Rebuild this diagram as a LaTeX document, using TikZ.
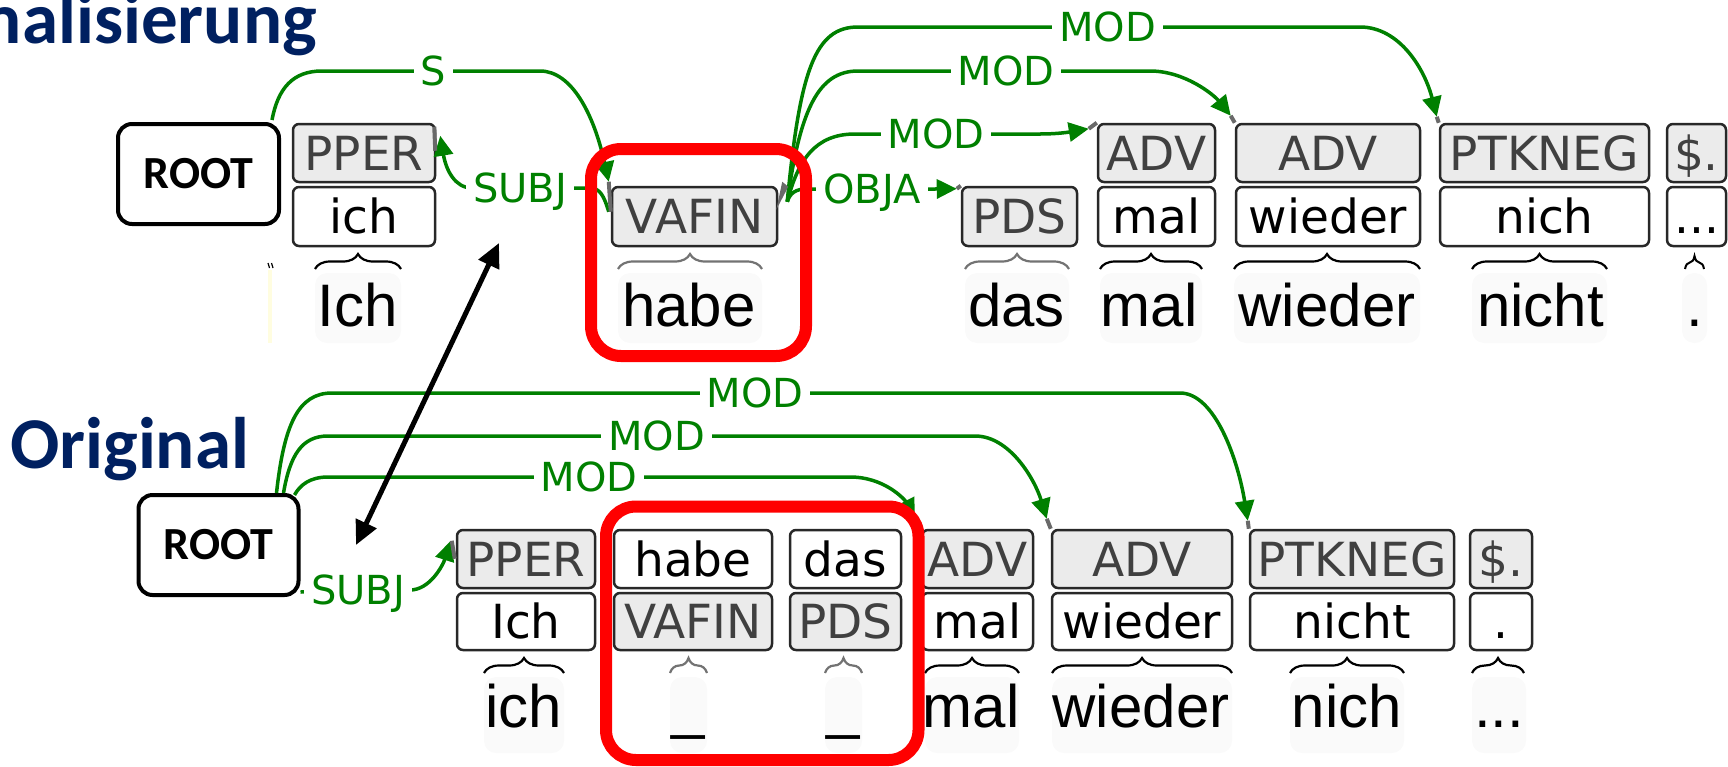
\documentclass[tikz,border=0pt]{standalone}
\usepackage{fontspec}
\setmainfont{Liberation Sans}
\newfontfamily\boxfont{DejaVu Sans}
\newfontfamily\carlito{Carlito}
\usetikzlibrary{arrows.meta,decorations.pathreplacing,calc}

\definecolor{arcgreen}{RGB}{0,128,0}
\definecolor{navy}{RGB}{0,32,96}
\definecolor{tagfill}{RGB}{235,235,235}
\definecolor{tagtext}{RGB}{64,64,64}
\definecolor{boxline}{RGB}{40,40,40}
\definecolor{markgray}{RGB}{105,105,105}
\definecolor{bracegray}{RGB}{115,115,115}

\tikzset{
  tag/.style={draw=boxline, line width=2.5pt, fill=tagfill, rounded corners=6pt,
    inner sep=0pt, text=tagtext, font=\boxfont\fontsize{47}{49}\selectfont,
    text height=34.3pt, text depth=0pt},
  tok/.style={tag, fill=white, text=black},
  rootbox/.style={draw=black, line width=4pt, rounded corners=14pt, fill=white,
    inner sep=0pt, font=\carlito\bfseries\fontsize{46}{48}\selectfont,
    text height=29.6pt, text depth=0pt},
  lbl/.style={fill=white, text=arcgreen, font=\boxfont\fontsize{40}{42}\selectfont,
    inner xsep=7pt, inner ysep=2pt, text height=29.2pt, text depth=0pt},
  arc/.style={draw=arcgreen, line width=3.5pt},
  tip/.style={-{Triangle[length=20pt,width=19pt]}},
  marker/.style={draw=markgray, line width=4pt},
  wordbg/.style={fill=black!2, rounded corners=12pt},
  word/.style={font=\fontsize{60}{62}\selectfont, anchor=base, inner sep=0pt},
  brc/.style={decorate, decoration={brace, amplitude=15pt}, line width=2.2pt},
  title/.style={font=\carlito\bfseries\fontsize{73}{75}\selectfont, text=navy, inner sep=0pt},
  hilite/.style={draw=red, line width=12pt, rounded corners=30pt},
}

\begin{document}
\begin{tikzpicture}[x=1pt,y=-1pt]
\useasboundingbox (0,0) rectangle (1728,766);
\clip (0,0) rectangle (1728,766);

% headings
\node[title, anchor=base east] (head1) at (317,43) {Normalisierung};
\node[title, anchor=base west] (head2) at (10,468) {Original};

% ---------- normalised analysis (top) ----------
\node[rootbox, minimum width=161pt, minimum height=100pt] (root1) at (198.5,174) {ROOT};
\node[tag, minimum width=142pt, minimum height=58pt] (pper1) at (364,153) {PPER};
\node[tok, minimum width=142pt, minimum height=59pt] (ich1) at (364,216.5) {ich};
\node[tag, minimum width=165pt, minimum height=59pt] (vafin1) at (694.5,216.5) {VAFIN};
\node[tag, minimum width=115pt, minimum height=59pt] (pds1) at (1019.5,216.5) {PDS};
\node[tag, minimum width=117pt, minimum height=58pt] (adv1a) at (1156.5,153) {ADV};
\node[tok, minimum width=117pt, minimum height=59pt] (mal1) at (1156.5,216.5) {mal};
\node[tag, minimum width=184pt, minimum height=58pt] (adv1b) at (1328,153) {ADV};
\node[tok, minimum width=184pt, minimum height=59pt] (wieder1) at (1328,216.5) {wieder};
\node[tag, minimum width=209pt, minimum height=58pt] (ptkneg1) at (1544.5,153) {PTKNEG};
\node[tok, minimum width=209pt, minimum height=59pt] (nich1) at (1544.5,216.5) {nich};
\node[tag, minimum width=59pt, minimum height=58pt] (dollar1) at (1696.5,153) {\$.};
\node[tok, minimum width=59pt, minimum height=59pt] (dots1) at (1696.5,216.5) {...};

\coordinate (vhub) at ($(vafin1.north east)+(9,16)$);

% dependency arcs, top
\draw[arc,tip] ($(root1.north east)+(-9,-2)$) .. controls (278,88) and (293,71) .. (322,71)
  -- (540,71) .. controls (572,71) and (594,115) .. ($(vafin1.north west)+(-2,-4)$);
\draw[arc,tip] ($(vafin1.north west)+(-2,26)$) .. controls (604,196) and (600,188) .. (590,188)
  -- (472,188) .. controls (455,188) and (446,170) .. ($(pper1.north east)+(4,13)$);
\draw[arc,tip] (vhub) .. controls (790,193) and (796,189) .. (806,189)
  -- (935,189) -- ($(pds1.north west)+(-4,3)$);
\draw[arc,tip] (vhub) .. controls (798,160) and (815,134) .. (855,134)
  -- (1040,134) .. controls (1062,134) and (1075,131) .. ($(adv1a.north west)+(-8,6)$);
\draw[arc,tip] (vhub) .. controls (800,110) and (818,71) .. (858,71)
  -- (1150,71) .. controls (1185,71) and (1214,95) .. ($(adv1b.north west)+(-4,-7)$);
\draw[arc,tip] (vhub) .. controls (800,70) and (815,27) .. (858,27)
  -- (1360,27) .. controls (1400,27) and (1425,70) .. ($(ptkneg1.north west)+(-2,-6)$);

% arc end markers, top
\draw[marker] ($(vafin1.north west)+(-2,-4)$) -- ($(vafin1.north west)+(0,26)$);
\draw[marker] ($(pper1.north east)+(-2,4)$) -- ($(pper1.north east)+(-1,28)$);
\fill[markgray] ($(vafin1.north east)+(-2,24)$) -- ($(vafin1.north east)+(4,-4)$) -- ($(vafin1.north east)+(10,1)$) -- cycle;
\draw[marker] ($(pds1.north west)+(-4,3)$) -- (pds1.north west);
\draw[marker] ($(adv1a.north west)+(-8,6)$) -- (adv1a.north west);
\draw[marker] ($(adv1b.north west)+(-4,-7)$) -- (adv1b.north west);
\draw[marker] ($(ptkneg1.north west)+(-2,-6)$) -- (ptkneg1.north west);

% arc labels, top
\node[lbl] (lS) at (433.5,71) {S};
\node[lbl] (lsubj1) at (520,188) {SUBJ};
\node[lbl] (lobja) at (872,189) {OBJA};
\node[lbl] (lmod1a) at (936,134) {MOD};
\node[lbl] (lmod1b) at (1006,71) {MOD};
\node[lbl] (lmod1c) at (1107.5,27) {MOD};

% token text, top
\foreach \a/\b in {315/401,618/762,965/1069,1100/1202,1234/1420,1472/1607,1682/1707}
  \fill[wordbg] (\a,273) rectangle (\b,343);
\fill[yellow!12] (268,270) rectangle (272,343);
\draw[line width=1.2pt] (268,263) -- (269.5,268) (271.5,263) -- (273,268);
\draw[brc] (315,269) -- (401,269);
\draw[brc, draw=bracegray] (618,269) -- (762,269);
\draw[brc, draw=bracegray] (965,269) -- (1069,269);
\draw[brc] (1100,269) -- (1202,269);
\draw[brc] (1234,269) -- (1420,269);
\draw[brc] (1472,269) -- (1607,269);
\draw[decorate, decoration={brace, amplitude=13pt}, line width=2pt] (1685,269) -- (1704,269);
\node[word] (w1a) at (358,326) {Ich};
\node[word] (w1b) at (689,326) {habe};
\node[word] (w1c) at (1016.5,326) {das};
\node[word] (w1d) at (1149,326) {mal};
\node[word] (w1e) at (1327,326) {wieder};
\node[word] (w1f) at (1540.5,326) {nicht};
\node[word] (w1g) at (1694.5,326) {.};

% ---------- original analysis (bottom) ----------
\node[rootbox, minimum width=160pt, minimum height=100pt] (root2) at (218.5,545) {ROOT};
\node[tag, minimum width=138pt, minimum height=58pt] (pper2) at (526,559) {PPER};
\node[tok, minimum width=138pt, minimum height=57pt] (ich2) at (526,621.5) {Ich};
\node[tok, minimum width=158pt, minimum height=58pt] (habe2) at (693,559) {habe};
\node[tag, minimum width=158pt, minimum height=57pt] (vafin2) at (693,621.5) {VAFIN};
\node[tok, minimum width=111pt, minimum height=58pt] (das2) at (845.5,559) {das};
\node[tag, minimum width=111pt, minimum height=57pt] (pds2) at (845.5,621.5) {PDS};
\node[tag, minimum width=111pt, minimum height=58pt] (adv2a) at (977.5,559) {ADV};
\node[tok, minimum width=111pt, minimum height=57pt] (mal2) at (977.5,621.5) {mal};
\node[tag, minimum width=180pt, minimum height=58pt] (adv2b) at (1142,559) {ADV};
\node[tok, minimum width=180pt, minimum height=57pt] (wieder2) at (1142,621.5) {wieder};
\node[tag, minimum width=204pt, minimum height=58pt] (ptkneg2) at (1352,559) {PTKNEG};
\node[tok, minimum width=204pt, minimum height=57pt] (nicht2) at (1352,621.5) {nicht};
\node[tag, minimum width=62pt, minimum height=58pt] (dollar2) at (1501,559) {\$.};
\node[tok, minimum width=62pt, minimum height=57pt] (dot2) at (1501,621.5) {.};

% dependency arcs, bottom
\draw[arc,tip] ($(root2.north east)+(-24,0)$) .. controls (284,425) and (298,393) .. (332,393)
  -- (1180,393) .. controls (1215,393) and (1238,460) .. ($(ptkneg2.north west)+(-1,-8)$);
\draw[arc,tip] ($(root2.north east)+(-17,0)$) .. controls (290,455) and (302,436) .. (328,436)
  -- (975,436) .. controls (1010,436) and (1035,480) .. ($(adv2b.north west)+(-4,-10)$);
\draw[arc,tip] ($(root2.north east)+(-6,2)$) .. controls (300,485) and (310,477) .. (328,477)
  -- (850,477) .. controls (885,477) and (905,500) .. ($(adv2a.north west)+(-6,-10)$);
\draw[arc,tip] ($(root2.south east)+(0,-5)$) -- (410,590)
  .. controls (430,590) and (443,565) .. ($(pper2.north west)+(-5,12)$);

% arc end markers, bottom
\draw[marker] ($(pper2.north west)+(-4,12)$) -- ($(pper2.north west)+(-1,30)$);
\draw[marker] ($(adv2a.north west)+(-6,-10)$) -- (adv2a.north west);
\draw[marker] ($(adv2b.north west)+(-4,-10)$) -- (adv2b.north west);
\draw[marker] ($(ptkneg2.north west)+(-1,-8)$) -- (ptkneg2.north west);

% arc labels, bottom
\node[lbl] (lmod2a) at (755,393) {MOD};
\node[lbl] (lmod2b) at (656.5,436) {MOD};
\node[lbl] (lmod2c) at (589,477) {MOD};
\node[lbl] (lsubj2) at (358,590) {SUBJ};

% token text, bottom
\foreach \a/\b in {484/564,670/707,825/862,925/1019,1052/1232,1290/1404,1472/1526}
  \fill[wordbg] (\a,677) rectangle (\b,753);
\draw[brc] (484,673) -- (564,673);
\draw[brc, draw=bracegray] (670,673) -- (707,673);
\draw[brc, draw=bracegray] (825,673) -- (862,673);
\draw[brc] (925,673) -- (1019,673);
\draw[brc] (1052,673) -- (1232,673);
\draw[brc] (1290,673) -- (1404,673);
\draw[brc] (1472,673) -- (1524,673);
\node[word] (w2a) at (523.5,727) {ich};
\node[word] (w2b) at (688.5,727) {\_};
\node[word] (w2c) at (843.5,727) {\_};
\node[word] (w2d) at (971,727) {mal};
\node[word] (w2e) at (1141,727) {wieder};
\node[word] (w2f) at (1347,727) {nich};
\node[word] (w2g) at (1499,727) {...};

% correspondence between the two analyses
\coordinate (link1) at (499,243);
\coordinate (link2) at (356,545);
\draw[line width=5pt, {Triangle[length=24pt,width=22pt]}-{Triangle[length=24pt,width=22pt]}] (link1) -- (link2);

% highlighted differences
\draw[hilite] (591,149) rectangle (806,356);
\draw[hilite] (606,506.5) rectangle (918.5,760);
\end{tikzpicture}
\end{document}
